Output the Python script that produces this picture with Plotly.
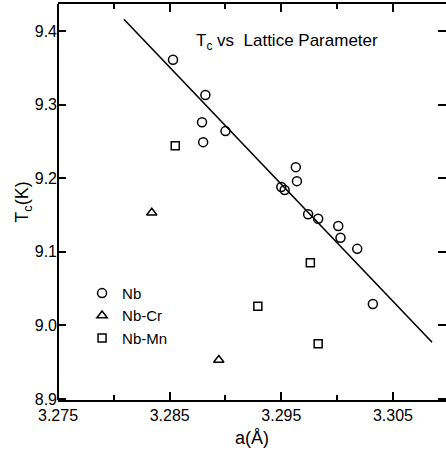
import plotly.graph_objects as go

# Nb (circles)
nb_a = [3.2853, 3.2882, 3.2879, 3.2880, 3.2900, 3.2963, 3.2964, 3.2950, 3.2953,
        3.2974, 3.2983, 3.3001, 3.3003, 3.3018, 3.3032]
nb_tc = [9.361, 9.313, 9.276, 9.249, 9.264, 9.215, 9.196, 9.188, 9.184,
         9.151, 9.145, 9.135, 9.119, 9.104, 9.029]

# Nb-Cr (triangles)
nbcr_a = [3.2834, 3.2894]
nbcr_tc = [9.153, 8.953]

# Nb-Mn (squares)
nbmn_a = [3.2855, 3.2929, 3.2976, 3.2983]
nbmn_tc = [9.244, 9.026, 9.085, 8.975]

# fitted line end points
fit_a = [3.2809, 3.3085]
fit_tc = [9.416, 8.977]

x_ticks = [3.275, 3.285, 3.295, 3.305]
x_ticklabels = ["3.275", "3.285", "3.295", "3.305"]
y_ticks = [8.9, 9.0, 9.1, 9.2, 9.3, 9.4]
y_ticklabels = ["8.9", "9.0", "9.1", "9.2", "9.3", "9.4"]

FONT = "Liberation Sans, Arial, sans-serif"

fig = go.Figure()
fig.add_trace(go.Scatter(x=fit_a, y=fit_tc, mode="lines",
                         line=dict(color="black", width=1.6), showlegend=False))
fig.add_trace(go.Scatter(x=nb_a, y=nb_tc, mode="markers", name="Nb",
                         marker=dict(symbol="circle-open", size=9, color="black",
                                     line=dict(width=1.5))))
fig.add_trace(go.Scatter(x=nbcr_a, y=nbcr_tc, mode="markers", name="Nb-Cr",
                         marker=dict(symbol="triangle-up-open", size=9, color="black",
                                     line=dict(width=1.5))))
fig.add_trace(go.Scatter(x=nbmn_a, y=nbmn_tc, mode="markers", name="Nb-Mn",
                         marker=dict(symbol="square-open", size=8, color="black",
                                     line=dict(width=1.5))))

fig.update_layout(
    width=446, height=453,
    margin=dict(l=58, r=0, t=4, b=53),
    paper_bgcolor="white", plot_bgcolor="white",
    font=dict(family=FONT, size=16, color="black"),
    legend=dict(x=0.062, y=0.311, xanchor="left", yanchor="top",
                bgcolor="rgba(0,0,0,0)", font=dict(size=15),
                tracegroupgap=0, itemwidth=30),
    xaxis=dict(range=[3.275, 3.30975], tickvals=x_ticks, ticktext=x_ticklabels,
               ticks="inside", ticklen=8, tickwidth=1.5, tickcolor="black",
               showline=True, linecolor="black", linewidth=2, mirror="ticks",
               showgrid=False, zeroline=False,
               minor=dict(dtick=0.005, tick0=3.275, ticks="inside", ticklen=5,
                          tickwidth=1.5, tickcolor="black", showgrid=False),
               title=dict(text="a(Å)", standoff=8, font=dict(size=18))),
    yaxis=dict(range=[8.8986, 9.4367], tickvals=y_ticks, ticktext=y_ticklabels,
               ticks="inside", ticklen=8, tickwidth=1.5, tickcolor="black",
               showline=False, mirror="ticks",
               showgrid=False, zeroline=False,
               title=dict(text="T<sub>c</sub>(K)", standoff=1, font=dict(size=18))),
    shapes=[dict(type="line", xref="paper", yref="paper", x0=0, x1=0, y0=0, y1=1,
                 line=dict(color="black", width=2))],
    annotations=[dict(text="T<sub>c</sub> vs  Lattice Parameter", x=0.35, y=0.905,
                      xref="paper", yref="paper", xanchor="left", yanchor="middle",
                      showarrow=False, font=dict(size=17))],
)

fig.write_html("out.html")
